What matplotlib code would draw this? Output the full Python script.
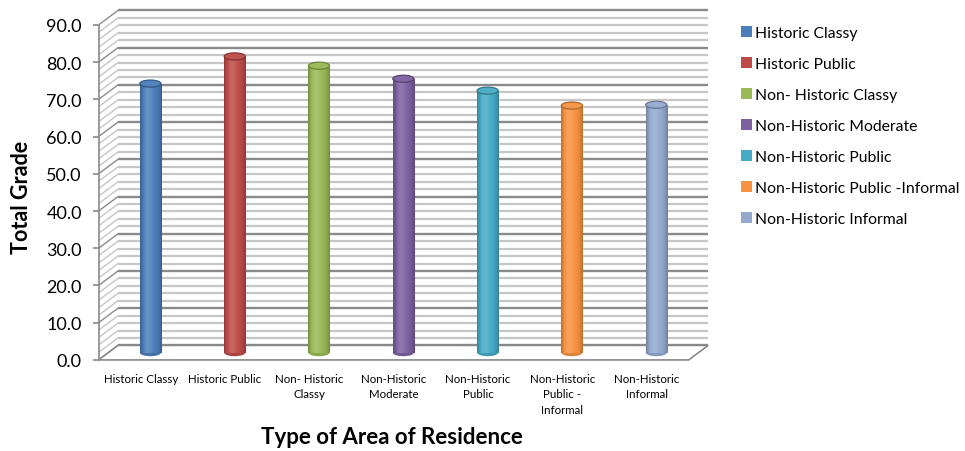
import numpy as np
import matplotlib
matplotlib.use("Agg")
from matplotlib import pyplot as plt
from matplotlib.patches import Ellipse, Polygon, Patch
from matplotlib.colors import to_rgb

plt.rcParams['font.family'] = ['Lato', 'DejaVu Sans']

areas = ["Historic Classy", "Historic Public", "Non- Historic Classy",
         "Non-Historic Moderate", "Non-Historic Public",
         "Non-Historic Public -Informal", "Non-Historic Informal"]
tick_labels = ["Historic Classy", "Historic Public", "Non- Historic\nClassy",
               "Non-Historic\nModerate", "Non-Historic\nPublic",
               "Non-Historic\nPublic -\nInformal", "Non-Historic\nInformal"]
total_grade = [72.3, 79.6, 77.1, 73.6, 70.4, 66.4, 66.6]
colors = ["#4a7ebb", "#be4b48", "#98b954", "#7d60a0", "#46aac5", "#f69240", "#93a9cf"]
y_ticks = list(range(0, 91, 10))

# depth of the fake 3d box (data units), bars sit half way in
dx, dy = 0.231, 3.9
bar_w = 0.25
cap_h = 1.9


def lighten(c, a):
    c = np.array(to_rgb(c))
    return c + (1 - c) * a


def darken(c, a):
    return np.array(to_rgb(c)) * (1 - a)


def cylinder_shade(c, n=64):
    t = np.linspace(0, 1, n)
    s = 0.16 * np.exp(-((t - 0.35) / 0.22) ** 2) - 0.25 * np.abs(2 * t - 1) ** 3
    base = np.array(to_rgb(c))
    rows = []
    for v in s:
        rows.append(base + (1 - base) * v if v > 0 else base * (1 + v))
    return np.clip(np.array(rows), 0, 1)[None, :, :]


fig = plt.figure(figsize=(9.65, 4.52), dpi=100)
ax = fig.add_axes([0.1021, 0.1850, 0.6334, 0.7946])
ax.set_xlim(-0.5, 6.75)
ax.set_ylim(-2, 94.5)

# back wall + left wall grid
for v in np.arange(0, 91, 2):
    major = v % 10 == 0
    c = '#8a8a8a' if major else '#c6c6c6'
    ax.plot([-0.5 + dx, 6.5 + dx], [v + dy, v + dy], color=c,
            lw=1.7 if major else 1.6, zorder=1, solid_capstyle='butt')
    ax.plot([-0.5, -0.5 + dx], [v, v + dy], color=c, lw=1.0, zorder=1)

floor = Polygon([(-0.5, 0), (6.5, 0), (6.5 + dx, dy), (-0.5 + dx, dy)],
                closed=True, facecolor='white', edgecolor='#8a8a8a', lw=1.2, zorder=2)
ax.add_patch(floor)

xs = np.arange(len(areas)) + dx / 2
bars = ax.bar(xs, total_grade, width=bar_w, bottom=dy / 2, color=colors, zorder=4)
for x, val, c, bar in zip(xs, total_grade, colors, bars):
    top = dy / 2 + val
    ax.add_patch(Ellipse((x, dy / 2), bar_w, cap_h, facecolor=darken(c, 0.1),
                         edgecolor='none', zorder=3))
    im = ax.imshow(cylinder_shade(c), extent=(x - bar_w / 2, x + bar_w / 2, dy / 2, top),
                   aspect='auto', interpolation='bilinear', zorder=5)
    im.set_clip_path(bar)
    ax.add_patch(Ellipse((x, top), bar_w, cap_h, facecolor=lighten(c, 0.05),
                         edgecolor=darken(c, 0.3), lw=0.9, zorder=6))

for s in ['top', 'right', 'bottom']:
    ax.spines[s].set_visible(False)
ax.spines['left'].set_bounds(0, 90)
ax.spines['left'].set_color('#8a8a8a')
ax.spines['left'].set_linewidth(1.2)
ax.set_yticks(y_ticks)
ax.set_yticklabels([f"{v:.1f}" for v in y_ticks])
ax.tick_params(axis='y', length=4, color='#8a8a8a', width=1.2, pad=8, labelsize=13)
ax.set_xticks(np.arange(len(areas)))
ax.set_xticklabels(tick_labels, fontsize=8.3, linespacing=1.5)
ax.tick_params(axis='x', length=0, pad=4)

fig.text(22 / 965, 0.564, "Total Grade", rotation=90, ha='center', va='center',
         fontsize=15.5, fontweight='bold')
fig.text(392 / 965, 0.031, "Type of Area of Residence", ha='center', va='center',
         fontsize=16, fontweight='bold')

handles = [Patch(facecolor=c) for c in colors]
fig.legend(handles, areas, loc='upper left', bbox_to_anchor=(741 / 965, 1 - 27 / 452),
           frameon=False, fontsize=11.3, handlelength=0.7, handleheight=0.7,
           handletextpad=0.2, labelspacing=1.08, borderaxespad=0, borderpad=0)

plt.savefig("out.png", dpi=100)
